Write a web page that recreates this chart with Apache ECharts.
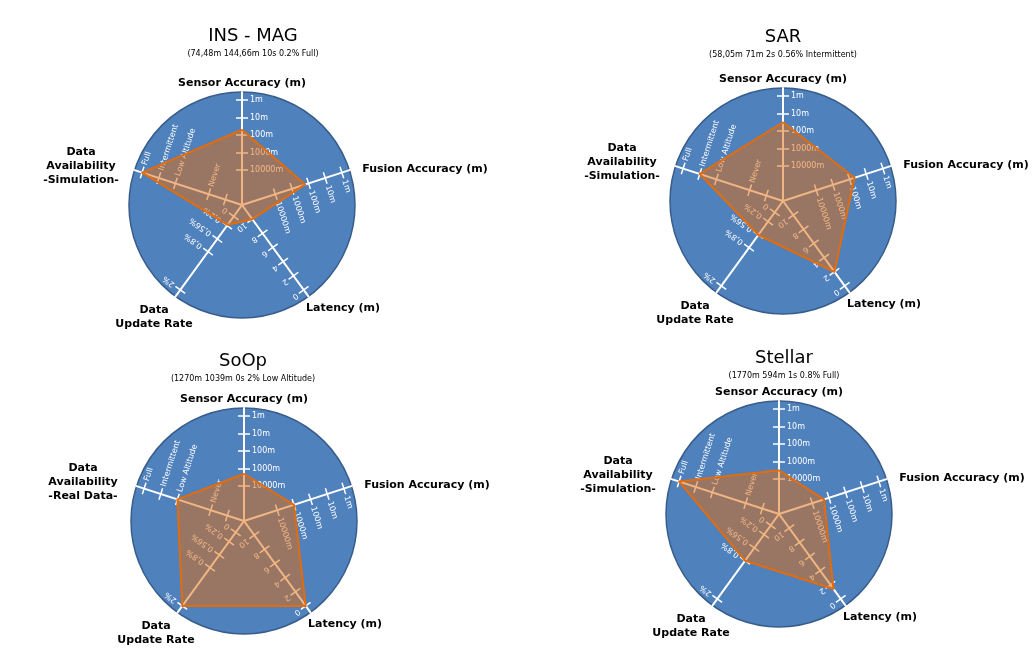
<!DOCTYPE html>
<html>
<head>
<meta charset="utf-8">
<script src="https://cdn.jsdelivr.net/npm/echarts@6/dist/echarts.min.js"></script>
<style>
  html, body { margin: 0; background: #fff; }
  #main { width: 1034px; height: 665px; }
</style>
</head>
<body>
<div id="main"></div>
<script>
// spokes in the order echarts lays them out (counter-clockwise from the top)
const axisTitles = ['Sensor Accuracy (m)', 'Data\nAvailability', 'Data\nUpdate Rate', 'Latency (m)', 'Fusion Accuracy (m)'];
const axisAngles = [90, 162, 234, 306, 18];

// tick marks: [position in tick steps from the centre, label]
const sensorTicks = [[2, '10000m'], [3, '1000m'], [4, '100m'], [5, '10m'], [6, '1m']];
const availTicks = [[1, ''], [2, 'Never'], [4, 'Low Altitude'], [5, 'Intermittent'], [6, 'Full']];
const rateTicks = [[0.8, '0'], [1.45, '0,2%'], [2.4, '0,56%'], [3.3, '0,8%'], [6, '2%']];
const latencyTicks = [[1, '10'], [2, '8'], [3, '6'], [4, '4'], [5, '2'], [6, '0']];
const fusionTicks = [[2, '10000m'], [3, '1000m'], [4, '100m'], [5, '10m'], [6, '1m']];
const tickSets = [sensorTicks, availTicks, rateTicks, latencyTicks, fusionTicks];

// chart titles
const chartTitles = ['INS - MAG', 'SAR', 'SoOp', 'Stellar'];
const chartSubtitles = [
  '(74,48m 144,66m 10s 0.2% Full)',
  '(58,05m 71m 2s 0.56% Intermittent)',
  '(1270m 1039m 0s 2% Low Altitude)',
  '(1770m 594m 1s 0.8% Full)'
];
const availSource = ['-Simulation-', '-Simulation-', '-Real Data-', '-Simulation-'];

// plotted positions on each spoke, in tick steps (sensor, availability, update rate, latency, fusion)
const insMagValues = [4.3, 6, 1.4, 1, 3.8];
const sarValues = [4.5, 5, 2.4, 5, 4.3];
const soopValues = [2.7, 4, 6, 6, 3.0];
const stellarValues = [2.5, 6, 3.3, 5.3, 2.7];
const allValues = [insMagValues, sarValues, soopValues, stellarValues];

// layout
const centers = [[242, 205], [783, 201], [244, 521], [779, 514]];
const titleTops = [[253, 27], [783, 28], [243, 352], [784, 349]];
const U = 17.5;      // px per tick step
const R = 6 * U;     // outer tick radius
const DISC = 113;    // blue disc radius
const TICK = 6;      // half length of a tick cross

// centre of each spoke name, relative to the chart centre
const namePos = [[0, -122], [-161, -39], [-88, 112], [101, 103], [183, -36]];

// gap along the spoke sets the height, horizontal padding shifts it sideways
function namePlace(angle, tx, ty) {
  const c = Math.cos(angle * Math.PI / 180), s = -Math.sin(angle * Math.PI / 180);
  const t = ty / s;
  const ox = tx - t * c;
  return {
    nameGap: t - R,
    nameTextStyle: { align: 'center', verticalAlign: 'middle', padding: [0, Math.max(0, -2 * ox), 0, Math.max(0, 2 * ox)] }
  };
}

const radars = [], series = [], titles = [];

chartTitles.forEach((name, ci) => {
  const center = centers[ci];

  titles.push({
    text: name, subtext: chartSubtitles[ci],
    left: titleTops[ci][0], top: titleTops[ci][1], textAlign: 'center',
    padding: 0, itemGap: 5,
    textStyle: { fontFamily: 'DejaVu Sans', fontSize: 18, fontWeight: 'normal', color: '#000' },
    subtextStyle: { fontFamily: 'DejaVu Sans', fontSize: 8, color: '#000' }
  });

  // blue disc + white spokes
  radars.push({
    center: center, radius: DISC, shape: 'circle', splitNumber: 1,
    indicator: axisTitles.map(() => ({ name: '', min: 0, max: 1 })),
    axisName: { show: false },
    axisLine: { lineStyle: { color: '#fff', width: 2 } },
    axisTick: { show: false }, axisLabel: { show: false },
    splitLine: { lineStyle: { color: '#385D8A', width: 1.5 } },
    splitArea: { areaStyle: { color: ['#4F81BD'] } }
  });

  // ticks (one side), tick labels, spoke names
  radars.push({
    center: center, radius: R, shape: 'circle', splitNumber: 6,
    indicator: axisTitles.map((t, i) => {
      const vals = tickSets[i].map(d => d[0]);
      const place = namePlace(axisAngles[i], namePos[i][0], namePos[i][1]);
      return {
        name: i === 1 ? t + '\n' + availSource[ci] : t,
        min: 0, max: 6,
        nameGap: place.nameGap, nameTextStyle: place.nameTextStyle,
        nameMoveOverlap: false,
        axisTick: { customValues: vals },
        axisLabel: {
          customValues: vals, rotate: axisAngles[i] - 90,
          formatter: v => { const hit = tickSets[i].find(d => Math.abs(d[0] - v) < 1e-6); return hit ? hit[1] : ''; }
        }
      };
    }),
    axisName: { color: '#000', fontFamily: 'DejaVu Sans', fontWeight: 'bold', fontSize: 11, lineHeight: 14 },
    axisLine: { show: false },
    axisTick: { show: true, length: TICK, lineStyle: { color: '#fff', width: 1.5 } },
    axisLabel: { show: true, color: '#fff', fontFamily: 'DejaVu Sans', fontSize: 8, margin: -8, align: 'left', verticalAlign: 'middle' },
    splitLine: { show: false }, splitArea: { show: false }
  });

  // the other half of each tick cross (radar ignores axisTick.inside, so flip the length)
  radars.push({
    center: center, radius: R, shape: 'circle', splitNumber: 6,
    indicator: axisTitles.map((t, i) => ({
      name: '', min: 0, max: 6,
      axisTick: { customValues: tickSets[i].map(d => d[0]) }
    })),
    axisName: { show: false },
    axisLine: { show: false },
    axisTick: { show: true, length: -TICK, lineStyle: { color: '#fff', width: 1.5 } },
    axisLabel: { show: false },
    splitLine: { show: false }, splitArea: { show: false }
  });

  series.push({
    type: 'radar', radarIndex: ci * 3 + 1, z: 5, silent: true,
    symbol: 'none',
    lineStyle: { color: '#E46C0A', width: 2 },
    areaStyle: { color: '#E46C0A', opacity: 0.5 },
    data: [{ value: allValues[ci], name: name }]
  });
});

const chart = echarts.init(document.getElementById('main'));
chart.setOption({
  animation: false,
  backgroundColor: '#fff',
  textStyle: { fontFamily: 'DejaVu Sans' },
  title: titles,
  radar: radars,
  series: series
});
</script>
</body>
</html>
